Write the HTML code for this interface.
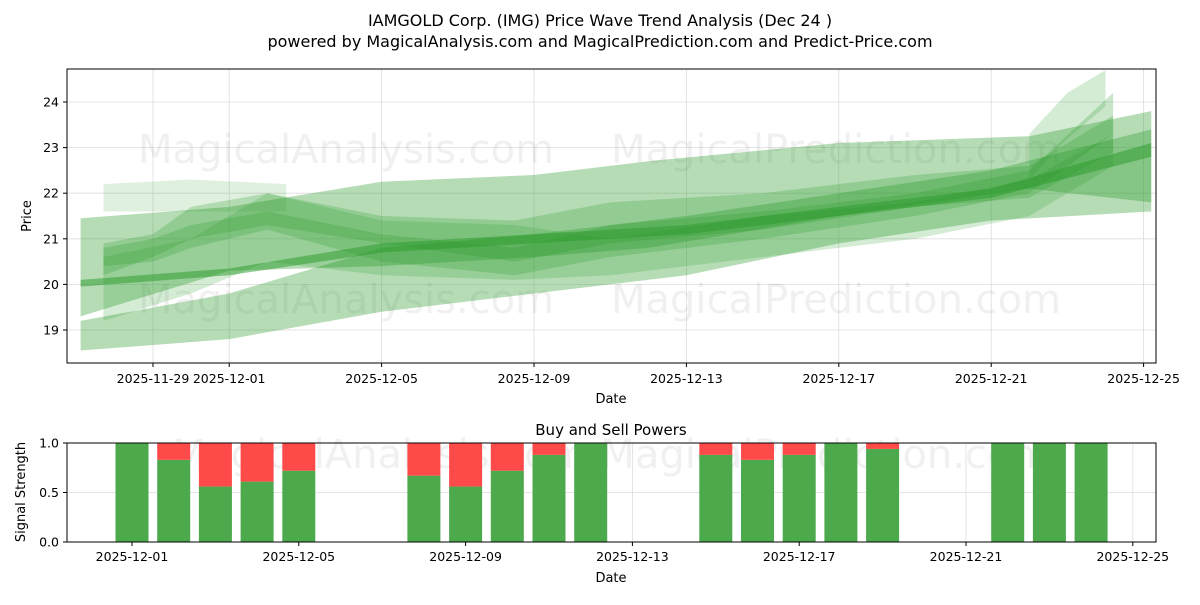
<!DOCTYPE html>
<html><head><meta charset="utf-8">
<style>
body{margin:0;background:#fff;font-family:"Liberation Sans","DejaVu Sans",sans-serif;}
svg text{font-family:"DejaVu Sans","Liberation Sans",sans-serif;}
</style></head>
<body>
<svg id="chart" width="1200" height="600" xmlns="http://www.w3.org/2000/svg">
<rect width="1200" height="600" fill="#fff"/>
<text x="600" y="26" text-anchor="middle" font-size="16" fill="#000">IAMGOLD Corp. (IMG) Price Wave Trend Analysis (Dec 24 )</text>
<text x="600" y="47" text-anchor="middle" font-size="16" fill="#000">powered by MagicalAnalysis.com and MagicalPrediction.com and Predict-Price.com</text>
<g id="topPanel"></g>
<g id="botPanel"></g>
</svg>
<script>
// ---- price panel data (days offset from 2025-11-29) ----
const priceTicks = [19,20,21,22,23,24];
const priceDateTicks = ["2025-11-29","2025-12-01","2025-12-05","2025-12-09","2025-12-13","2025-12-17","2025-12-21","2025-12-25"];
const priceDateTickDays = [0,2,6,10,14,18,22,26];
const waveDays = [
 [-1.9,2,6,10,14,18,22,26.2],
 [-1.9,2,6,10,14,18,22,26.2],
 [-1.9,2,6,10,13,18,23,26.2],
 [23,24,25],
 [-1.3,1,3.5],
 [-1.3,0,1,3,6,9.5,12,16,20,23,25.2],
 [-1.3,0,1,3,6,9.5,12,16,20,23,25.2],
 [-1.3,1,3,6,9.5,12,16,20,23,25.2]
];
const waveLow = [
 [19.95,20.2,20.7,20.9,21.1,21.5,21.9,22.8],
 [18.55,18.8,19.4,19.8,20.2,20.9,21.4,21.6],
 [19.3,20.3,20.4,20.6,20.8,21.5,22.1,21.8],
 [22.3,23.2,23.9],
 [21.6,21.6,21.6],
 [20.2,20.6,21.0,21.3,20.9,20.5,20.9,21.2,21.7,21.9,22.9],
 [20.4,20.5,20.8,21.2,20.5,20.2,20.6,21.0,21.5,22.0,23.3],
 [19.2,19.8,20.5,20.2,20.1,20.2,20.6,21.0,21.5,22.6]
];
const waveHigh = [
 [20.1,20.35,20.9,21.1,21.3,21.7,22.1,23.1],
 [19.2,19.8,20.8,21.1,21.5,22.0,22.5,23.4],
 [21.45,21.7,22.25,22.4,22.7,23.1,23.25,23.8],
 [23.3,24.2,24.7],
 [22.2,22.3,22.2],
 [20.9,21.1,21.7,22.0,21.5,21.4,21.8,22.0,22.4,22.6,23.7],
 [20.8,21.0,21.3,21.6,21.1,20.8,21.3,21.6,22.0,22.5,24.2],
 [20.6,21.0,22.0,21.4,21.3,21.0,21.5,21.8,22.3,23.3]
];
const waveOpacity = [0.5,0.35,0.35,0.2,0.15,0.25,0.25,0.2];
// ---- signal panel data ----
const sigDays = [2,3,4,5,6,9,10,11,12,13,16,17,18,19,20,23,24,25];
const buyVals = [1.0,0.83,0.56,0.61,0.72,0.67,0.56,0.72,0.88,1.0,0.88,0.83,0.88,1.0,0.94,1.0,1.0,1.0];
const sigTicks = [0,0.5,1.0];
const sigDateTicks = ["2025-12-01","2025-12-05","2025-12-09","2025-12-13","2025-12-17","2025-12-21","2025-12-25"];
const sigDateTickDays = [2,6,10,14,18,22,26];

const NS="http://www.w3.org/2000/svg";
function mk(tag,attrs,parent,txt){const e=document.createElementNS(NS,tag);for(const k in attrs)e.setAttribute(k,attrs[k]);if(txt!==undefined)e.textContent=txt;parent.appendChild(e);return e;}
const topG=document.getElementById('topPanel'), botG=document.getElementById('botPanel');
const T={x0:67,x1:1156,y0:69,y1:363};
const px=d=>153+d*38.1;
const py=v=>102+(24-v)*45.6;
const B={x0:67,x1:1156,y0:443,y1:542};
const bx=d=>132+(d-2)*41.7;
const by=v=>542-v*99;

priceTicks.forEach(v=>{const l=mk('line',{x1:T.x0,x2:T.x1,y1:py(v),y2:py(v),stroke:'#ddd','stroke-width':0.8},topG);

});
priceDateTickDays.forEach(d=>{const l=mk('line',{x1:px(d),x2:px(d),y1:T.y0,y2:T.y1,stroke:'#ddd','stroke-width':0.8},topG);

});
[[346,150],[836,150],[346,300],[836,300]].forEach((p,i)=>{const t=mk('text',{x:p[0],y:p[1]+13,'text-anchor':'middle','font-size':40,fill:'#000','fill-opacity':0.06},topG,i%2?'MagicalPrediction.com':'MagicalAnalysis.com');

});
const cp=mk('clipPath',{id:'cp'},topG);mk('rect',{x:T.x0,y:T.y0,width:T.x1-T.x0,height:T.y1-T.y0},cp);
const wg=mk('g',{'clip-path':'url(#cp)'},topG);
waveDays.forEach((days,i)=>{
 let pts=days.map((d,j)=>px(d)+','+py(waveHigh[i][j]));
 pts=pts.concat(days.map((d,j)=>px(d)+','+py(waveLow[i][j])).reverse());
 const p=mk('polygon',{points:pts.join(' '),fill:'#2a9a2a','fill-opacity':waveOpacity[i]},wg);
 
 
});
mk('rect',{x:T.x0,y:T.y0,width:T.x1-T.x0,height:T.y1-T.y0,fill:'none',stroke:'#000','stroke-width':1},topG);
priceTicks.forEach(v=>{mk('line',{x1:T.x0-4,x2:T.x0,y1:py(v),y2:py(v),stroke:'#000'},topG);
const t=mk('text',{x:T.x0-8,y:py(v)+4.5,'text-anchor':'end','font-size':12.5},topG,String(v));

});
priceDateTickDays.forEach((d,i)=>{mk('line',{x1:px(d),x2:px(d),y1:T.y1,y2:T.y1+4,stroke:'#000'},topG);
const t=mk('text',{x:px(d),y:T.y1+20,'text-anchor':'middle','font-size':12.5},topG,priceDateTicks[i]);

});
const xt=mk('text',{x:611,y:403,'text-anchor':'middle','font-size':13},topG,'Date');

const yt=mk('text',{x:31,y:216,'text-anchor':'middle','font-size':13,transform:'rotate(-90 31 216)'},topG,'Price');


const st=mk('text',{x:611,y:435,'text-anchor':'middle','font-size':15},botG,'Buy and Sell Powers');

sigTicks.forEach(v=>{mk('line',{x1:B.x0,x2:B.x1,y1:by(v),y2:by(v),stroke:'#ddd','stroke-width':0.8},botG);});
sigDateTickDays.forEach(d=>{mk('line',{x1:bx(d),x2:bx(d),y1:B.y0,y2:B.y1,stroke:'#ddd','stroke-width':0.8},botG);});
const wm=mk('text',{x:611,y:468,'text-anchor':'middle','font-size':40,fill:'#000','fill-opacity':0.06},botG,'MagicalAnalysis.com     MagicalPrediction.com');

sigDays.forEach((d,i)=>{const w=33,x=bx(d)-w/2;
 const g=mk('rect',{x:x,y:by(buyVals[i]),width:w,height:by(0)-by(buyVals[i]),fill:'#4caa4c'},botG);
 
 
 const r=mk('rect',{x:x,y:by(1),width:w,height:by(buyVals[i])-by(1),fill:'#ff4a4a'},botG);
 
 
});
mk('rect',{x:B.x0,y:B.y0,width:B.x1-B.x0,height:B.y1-B.y0,fill:'none',stroke:'#000'},botG);
sigTicks.forEach(v=>{mk('line',{x1:B.x0-4,x2:B.x0,y1:by(v),y2:by(v),stroke:'#000'},botG);
const t=mk('text',{x:B.x0-8,y:by(v)+4.5,'text-anchor':'end','font-size':12.5},botG,v.toFixed(1));

});
sigDateTickDays.forEach((d,i)=>{mk('line',{x1:bx(d),x2:bx(d),y1:B.y1,y2:B.y1+4,stroke:'#000'},botG);
const t=mk('text',{x:bx(d),y:B.y1+19,'text-anchor':'middle','font-size':12.5},botG,sigDateTicks[i]);

});
const sx=mk('text',{x:611,y:582,'text-anchor':'middle','font-size':13},botG,'Date');

const sy=mk('text',{x:25,y:492,'text-anchor':'middle','font-size':13,transform:'rotate(-90 25 492)'},botG,'Signal Strength');

</script>
</body></html>
